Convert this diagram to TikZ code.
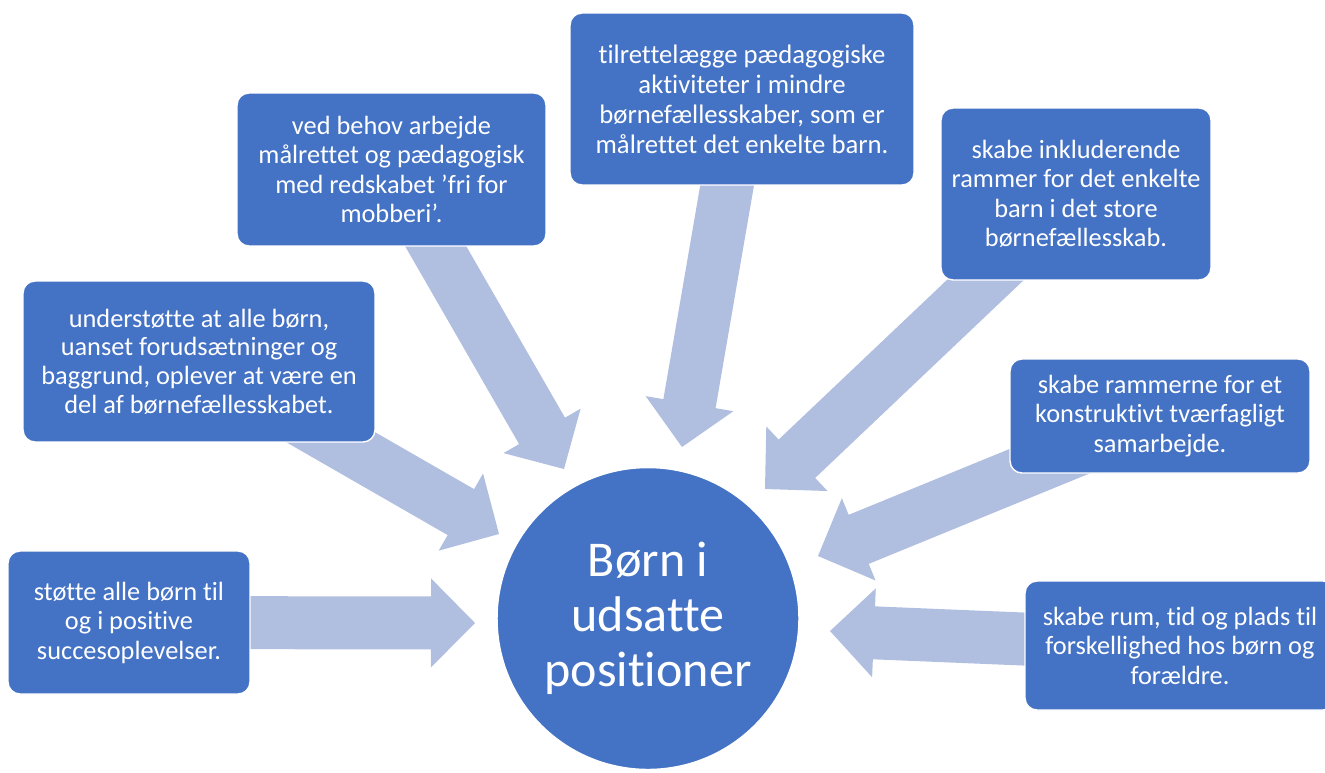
\documentclass[tikz,border=0pt]{standalone}
\usepackage{fontspec}
\setmainfont{Carlito}[Ligatures=NoCommon]
\usetikzlibrary{calc,backgrounds}
\definecolor{boxblue}{RGB}{68,114,196}
\definecolor{arrowblue}{RGB}{176,190,224}
\tikzstyle{goal} = [rectangle, rounded corners=0.24cm, fill=boxblue, draw=white, line width=0.8pt, text=white, align=center, inner sep=0pt, font=\fontsize{15}{16.8}\selectfont]
\tikzstyle{hub} = [circle, fill=boxblue, draw=white, line width=0.8pt, text=white, align=center, inner sep=0pt, minimum size=6.04cm, font=\fontsize{28.5}{31.3}\selectfont]
\tikzstyle{push} = [fill=arrowblue]
% block arrow from the centre of a box (#1) to a tip (#2)
\newcommand{\pusharrow}[2]{%
  \coordinate (hb) at ($(#2)!0.88cm!(#1)$);
  \fill[push] (#2) -- ($(hb)!0.89cm!90:(#2)$) -- ($(hb)!0.53cm!90:(#2)$)
    -- ($(#1)!0.53cm!90:(#2)$) -- ($(#1)!0.53cm!-90:(#2)$)
    -- ($(hb)!0.53cm!-90:(#2)$) -- ($(hb)!0.89cm!-90:(#2)$) -- cycle;}

\begin{document}
\begin{tikzpicture}[x=0.02cm, y=-0.02cm]
  \useasboundingbox (0,0) rectangle (1325,772);
  \node (x) at (648,618.5) [hub] {Børn i\\udsatte\\positioner};
  \node (a) at (129,622.5) [goal, minimum width=4.84cm, minimum height=2.86cm] {støtte alle børn til\\og i positive\\succesoplevelser.};
  \node (b) at (199,361.5) [goal, minimum width=7.04cm, minimum height=3.22cm, font=\fontsize{15}{16.3}\selectfont] {understøtte at alle børn,\\uanset forudsætninger og\\baggrund, oplever at være en\\del af børnefællesskabet.};
  \node (c) at (391.5,169.5) [goal, minimum width=6.18cm, minimum height=3.06cm] {ved behov arbejde\\målrettet og pædagogisk\\med redskabet ’fri for\\mobberi’.};
  \node (d) at (742,99) [goal, minimum width=6.88cm, minimum height=3.44cm, font=\fontsize{15.2}{17.1}\selectfont] {tilrettelægge pædagogiske\\aktiviteter i mindre\\børnefællesskaber, som er\\målrettet det enkelte barn.};
  \node (e) at (1076,194) [goal, minimum width=5.40cm, minimum height=3.44cm] {skabe inkluderende\\rammer for det enkelte\\barn i det store\\børnefællesskab.};
  \node (f) at (1160,416) [goal, minimum width=6.00cm, minimum height=2.28cm] {skabe rammerne for et\\konstruktivt tværfagligt\\samarbejde.};
  \node (g) at (1180,645.5) [goal, minimum width=6.20cm, minimum height=2.58cm] {skabe rum, tid og plads til\\forskellighed hos børn og\\forældre.};
  \coordinate (ta) at (475,623);
  \coordinate (tb) at (499,534);
  \coordinate (tc) at (564,469);
  \coordinate (td) at (682,447);
  \coordinate (te) at (765,489);
  \coordinate (tf) at (818,556);
  \coordinate (tg) at (830,631);
  \begin{scope}[on background layer]
    \pusharrow{a}{ta}
    \pusharrow{b}{tb}
    \pusharrow{c}{tc}
    \pusharrow{d}{td}
    \pusharrow{e}{te}
    \pusharrow{f}{tf}
    \pusharrow{g}{tg}
  \end{scope}
\end{tikzpicture}
\end{document}
